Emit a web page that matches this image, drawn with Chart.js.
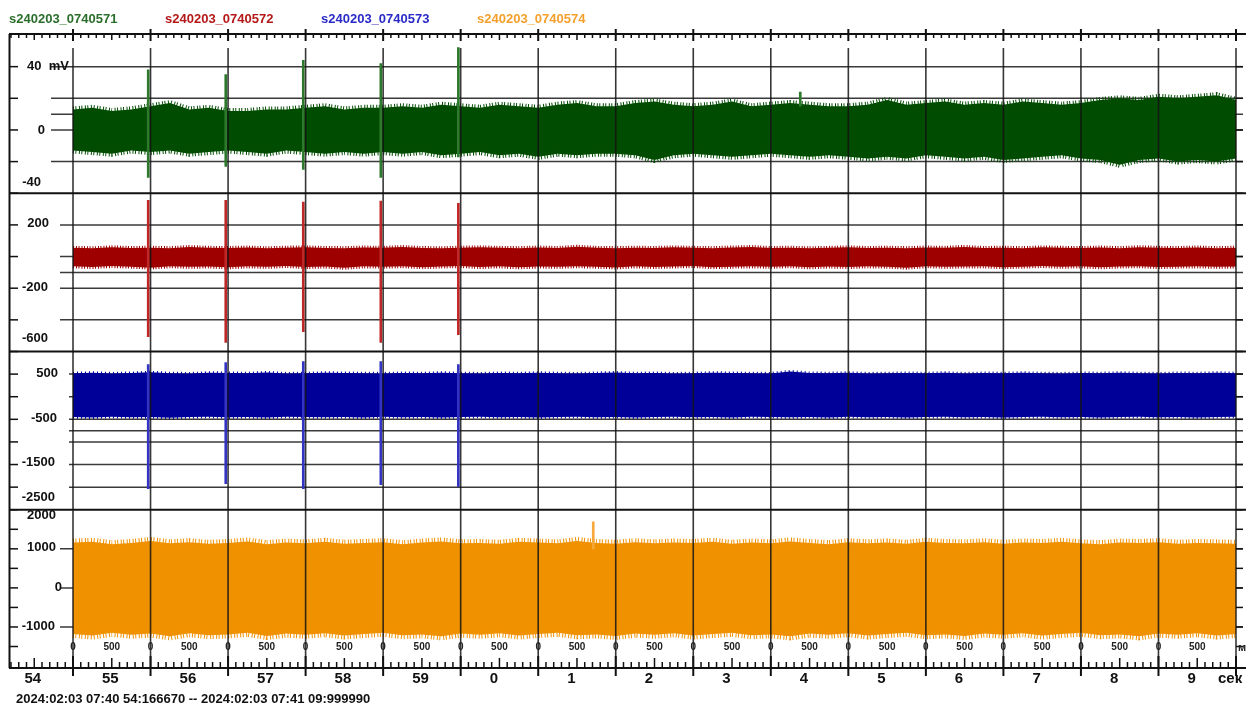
<!DOCTYPE html>
<html>
<head>
<meta charset="utf-8">
<script src="https://cdn.jsdelivr.net/npm/chart.js@4.4.1/dist/chart.umd.min.js"></script>
<style>
  html, body { margin: 0; padding: 0; background: #fff; }
  #wrap { width: 1246px; height: 704px; }
</style>
</head>
<body>
<div id="wrap"><canvas id="eeg" width="1246" height="704"></canvas></div>
<script>
// channel names (legend at the top)
const channelNames = ['s240203_0740571', 's240203_0740572', 's240203_0740573', 's240203_0740574'];
const rangeText = '2024:02:03 07:40 54:166670 -- 2024:02:03 07:41 09:999990';

// x axis: seconds, 54.16667 .. 70 (70 = 07:41:10)
const timeMin = 54.16667, timeMax = 70;
const secondLabels = ['54', '55', '56', '57', '58', '59', '0', '1', '2', '3', '4', '5', '6', '7', '8', '9'];
const msLabels = ['0', '500'];

// envelope of each trace, one value per 0.25 s from 55.00 s to 70.00 s
const greenUpper = [13, 14, 12, 13, 15, 17, 13, 14, 12, 12, 13, 13, 14, 15, 13, 14,
  14, 15, 14, 16, 15, 14, 16, 15, 14, 16, 17, 15, 15, 17, 18, 16,
  15, 16, 18, 15, 16, 17, 16, 15, 15, 16, 19, 16, 17, 18, 16, 17,
  16, 18, 17, 16, 17, 19, 20, 19, 21, 20, 21, 22, 19];
const greenLower = [-13, -14, -15, -13, -14, -13, -15, -14, -13, -14, -15, -13, -14, -15, -14, -15,
  -14, -15, -14, -16, -15, -14, -16, -15, -17, -15, -16, -15, -15, -16, -19, -16,
  -15, -16, -17, -16, -15, -16, -17, -16, -17, -18, -17, -18, -16, -17, -18, -17,
  -19, -18, -17, -16, -18, -19, -22, -19, -18, -20, -19, -20, -18];
const redUpper = [55, 52, 58, 54, 56, 53, 60, 55, 54, 57, 52, 56, 58, 54, 53, 57,
  55, 60, 54, 52, 56, 58, 55, 53, 57, 54, 62, 55, 53, 56, 54, 58,
  55, 53, 57, 60, 54, 56, 52, 55, 58, 54, 56, 53, 57, 55, 61, 54,
  56, 53, 58, 55, 54, 57, 53, 59, 55, 54, 57, 53, 56];
const redLower = [-62, -66, -60, -64, -70, -61, -65, -63, -68, -62, -65, -60, -66, -63, -71, -62,
  -64, -61, -67, -63, -60, -66, -62, -68, -63, -65, -61, -64, -69, -62, -66, -63,
  -60, -67, -64, -62, -65, -61, -68, -63, -66, -62, -64, -70, -61, -65, -63, -62,
  -67, -64, -60, -65, -62, -68, -63, -61, -66, -64, -62, -65, -63];
const blueUpper = [520, 530, 515, 525, 540, 520, 515, 530, 525, 520, 535, 515, 520, 530, 525, 520,
  515, 525, 520, 530, 520, 515, 525, 520, 530, 520, 515, 525, 535, 520, 525, 515,
  520, 530, 525, 520, 515, 560, 525, 520, 530, 515, 520, 525, 520, 530, 515, 525,
  520, 530, 520, 515, 525, 520, 530, 520, 515, 525, 520, 530, 520];
const blueLower = [-450, -460, -445, -455, -450, -465, -450, -445, -455, -450, -460, -445, -450, -455, -450, -460,
  -445, -455, -450, -460, -450, -445, -455, -450, -460, -450, -445, -455, -450, -460, -450, -445,
  -455, -450, -460, -445, -450, -455, -450, -460, -445, -455, -450, -460, -450, -445, -455, -450,
  -460, -450, -445, -455, -450, -460, -450, -445, -455, -450, -460, -450, -445];
const orangeUpper = [1160, 1180, 1120, 1150, 1200, 1140, 1170, 1130, 1150, 1190, 1120, 1160, 1140, 1180, 1130, 1150,
  1170, 1120, 1160, 1190, 1140, 1150, 1130, 1180, 1160, 1140, 1200, 1150, 1130, 1170, 1140, 1160,
  1150, 1180, 1130, 1160, 1140, 1190, 1150, 1120, 1170, 1140, 1160, 1130, 1180, 1150, 1140, 1170,
  1130, 1160, 1150, 1180, 1140, 1120, 1160, 1150, 1170, 1130, 1150, 1140, 1130];
const orangeLower = [-1180, -1220, -1150, -1200, -1170, -1240, -1160, -1210, -1190, -1150, -1230, -1170, -1200, -1160, -1220, -1180,
  -1150, -1210, -1190, -1240, -1170, -1200, -1160, -1220, -1180, -1150, -1210, -1190, -1230, -1170, -1200, -1160,
  -1220, -1180, -1150, -1210, -1190, -1240, -1170, -1200, -1160, -1220, -1180, -1150, -1210, -1190, -1230, -1170,
  -1200, -1160, -1220, -1180, -1150, -1210, -1190, -1240, -1170, -1200, -1160, -1220, -1180];

// spikes (time in s, min, max)
const greenSpikeTimes = [55.97, 56.97, 57.97, 58.97, 59.97, 64.38];
const greenSpikeMin = [-30, -23, -25, -30, -17, 15];
const greenSpikeMax = [38, 35, 44, 42, 52, 24];
const redSpikeTimes = [55.97, 56.97, 57.97, 58.97, 59.97];
const redSpikeMin = [-506, -543, -474, -543, -493];
const redSpikeMax = [356, 356, 344, 350, 337];
const blueSpikeTimes = [55.97, 56.97, 57.97, 58.97, 59.97];
const blueSpikeMin = [-2035, -1924, -2035, -1947, -1990];
const blueSpikeMax = [712, 756, 779, 779, 712];
const orangeSpikeTimes = [61.71];
const orangeSpikeMin = [1000];
const orangeSpikeMax = [1692];

// vertical scales of the four panels
const panelMin = [-40, -600, -2500, -2050];
const panelMax = [60, 400, 1000, 2000];
const panelTicks = [[40, 20, 0, -20, -40], [200, 0, -200, -400, -600], [500, 0, -500, -1000, -1500, -2000, -2500], [1500, 1000, 500, 0, -500, -1000, -1500]];
const panelGrid = [[40, 20, 10, 0, -20], [200, 0, -100, -200, -400], [500, 0, -500, -750, -1000, -1500, -2000], [1000, 0, -1000]];
const panelLabelValues = [[40, 0, -40], [200, -200, -600], [500, -500, -1500, -2500], [2000, 1000, 0, -1000]];
const panelLabelTexts = [['40  mV', '0', '-40'], ['200', '-200', '-600'], ['500', '-500', '-1500', '-2500'], ['2000', '1000', '0', '-1000']];

// ---- styling ----
const FONT = 'Arial, "Liberation Sans", sans-serif';
const traceColors = ['#004c00', '#9e0000', '#000099', '#f09100'];
const spikeColors = ['#2d7a2d', '#c02828', '#3333c4', '#f6a93a'];
const legendColors = ['#2b6e2b', '#b41818', '#2a2ac8', '#f5a02c'];
const fringeWidth = [6, 4, 3, 8];
const fringeDash = [[1, 1.5, 1, 2.5], [1, 2, 1, 1.5], [1, 3], [1, 1.5, 1, 2.5]];
const axisIds = ['yG', 'yR', 'yB', 'yO'];
const gridStartX = [51, 60, 69, 60];
// label layout per panel: [x, align, dy]
const labelLayout = [
  [[27, 'left', 0], [45, 'right', 0], [41, 'right', -11]],
  [[49, 'right', -1], [48, 'right', -1], [48, 'right', -13]],
  [[58, 'right', -1], [57, 'right', -1], [55, 'right', -2], [55, 'right', -12]],
  [[56, 'right', 6], [56, 'right', -1], [62, 'right', 0], [55, 'right', -1]]
];

const binTimes = greenUpper.map((_, i) => 55 + i * 0.25); // sampling grid

function pts(values) {
  return values.map((v, i) => ({ x: binTimes[i], y: v }));
}
function spikes(times, lo, hi) {
  return times.map((t, i) => ({ x: t, y: [lo[i], hi[i]] }));
}

const bands = [[greenUpper, greenLower], [redUpper, redLower], [blueUpper, blueLower], [orangeUpper, orangeLower]];
const spikeSets = [
  spikes(greenSpikeTimes, greenSpikeMin, greenSpikeMax),
  spikes(redSpikeTimes, redSpikeMin, redSpikeMax),
  spikes(blueSpikeTimes, blueSpikeMin, blueSpikeMax),
  spikes(orangeSpikeTimes, orangeSpikeMin, orangeSpikeMax)
];

const datasets = [];
bands.forEach((b, p) => {
  datasets.push({
    type: 'bar', label: channelNames[p] + ' spikes', data: spikeSets[p], yAxisID: axisIds[p],
    backgroundColor: spikeColors[p], barThickness: 2, grouped: false, order: 0
  });
});
bands.forEach((b, p) => {
  // upper edge: dashed wide line gives the noisy fringe
  datasets.push({
    label: channelNames[p], data: pts(b[0]), yAxisID: axisIds[p], borderColor: traceColors[p],
    borderWidth: fringeWidth[p], borderDash: fringeDash[p], borderCapStyle: 'butt',
    pointRadius: 0, fill: false, order: 1
  });
  datasets.push({
    label: channelNames[p] + ' low', data: pts(b[1]), yAxisID: axisIds[p], borderColor: traceColors[p],
    borderWidth: fringeWidth[p], borderDash: fringeDash[p], borderCapStyle: 'butt',
    pointRadius: 0, fill: '-1', backgroundColor: traceColors[p], order: 1
  });
});

function seg(ctx, x1, y1, x2, y2) {
  ctx.beginPath();
  ctx.moveTo(x1, y1);
  ctx.lineTo(x2, y2);
  ctx.stroke();
}

function ruler(ctx, xs, y, up) {
  const d = up ? -1 : 1;
  ctx.lineWidth = 2;
  seg(ctx, 9, y, 1246, y);
  ctx.lineWidth = 1.5;
  for (let k = 542; k <= 700; k++) {
    const x = xs.getPixelForValue(k / 10);
    if (k % 10 === 0) {
      ctx.lineWidth = 2;
      if (up) seg(ctx, x, y - 12, x, y + 8);
      else seg(ctx, x, y - 5, x, y + 7);
      ctx.lineWidth = 1.5;
    } else if (k % 5 === 0) {
      seg(ctx, x, y, x, y + d * (up ? 10 : 6));
    } else {
      seg(ctx, x, y, x, y + d * (up ? 6 : 4));
    }
  }
}

const eegDecor = {
  id: 'eegDecor',
  beforeDatasetsDraw(chart) {
    const ctx = chart.ctx;
    ctx.save();
    ctx.strokeStyle = '#3a3a3a';
    ctx.lineWidth = 1.5;
    axisIds.forEach((id, p) => {
      const sc = chart.scales[id];
      panelGrid[p].forEach(v => {
        const y = sc.getPixelForValue(v);
        seg(ctx, gridStartX[p], y, 1243, y);
      });
    });
    ctx.restore();
  },
  afterDatasetsDraw(chart) {
    const ctx = chart.ctx;
    const xs = chart.scales.x;
    ctx.save();
    // second lines over the traces
    ctx.strokeStyle = 'rgba(20,20,20,0.85)';
    ctx.lineWidth = 1.6;
    for (let s = 55; s <= 70; s++) {
      const x = xs.getPixelForValue(s);
      seg(ctx, x, 48, x, 668);
    }
    ctx.strokeStyle = '#111';
    // panel separators, left border, side ticks
    ctx.lineWidth = 2;
    seg(ctx, 9.5, 34, 9.5, 668);
    axisIds.forEach((id, p) => {
      const sc = chart.scales[id];
      if (p < 3) {
        ctx.lineWidth = 2;
        seg(ctx, 9, sc.bottom, 1246, sc.bottom);
      }
      ctx.lineWidth = 1.5;
      panelTicks[p].forEach(v => {
        const y = sc.getPixelForValue(v);
        seg(ctx, 9, y, 18, y);
        seg(ctx, 1236, y, 1243, y);
      });
    });
    // time rulers
    ruler(ctx, xs, 34, false);
    ruler(ctx, xs, 668, true);

    // texts
    ctx.textBaseline = 'middle';
    ctx.font = 'bold 13px ' + FONT;
    ctx.textAlign = 'left';
    const legendX = [9, 165, 321, 477];
    channelNames.forEach((n, i) => {
      ctx.fillStyle = legendColors[i];
      ctx.fillText(n, legendX[i], 19);
    });
    ctx.fillStyle = '#111';
    axisIds.forEach((id, p) => {
      const sc = chart.scales[id];
      panelLabelValues[p].forEach((v, i) => {
        const [x, align, dy] = labelLayout[p][i];
        ctx.textAlign = align;
        ctx.fillText(panelLabelTexts[p][i], x, sc.getPixelForValue(v) + dy);
      });
    });
    // ms labels inside the bottom panel
    ctx.font = 'bold 10px ' + FONT;
    ctx.textAlign = 'center';
    ctx.fillStyle = '#222';
    for (let s = 55; s < 70; s++) {
      ctx.fillText(msLabels[0], xs.getPixelForValue(s), 647);
      ctx.fillText(msLabels[1], xs.getPixelForValue(s + 0.5), 647);
    }
    ctx.textAlign = 'left';
    ctx.font = 'bold 11px ' + FONT;
    ctx.fillText('мс', xs.getPixelForValue(70) + 2, 648);
    // seconds
    ctx.fillStyle = '#111';
    ctx.font = 'bold 15px ' + FONT;
    secondLabels.forEach((lab, i) => {
      ctx.fillText(lab, xs.getPixelForValue(54 + i) + 29, 679);
    });
    ctx.fillText('сек', xs.getPixelForValue(70) - 18, 679);
    ctx.font = 'bold 13px ' + FONT;
    ctx.fillText(rangeText, 16, 699);
    ctx.restore();
  }
};

new Chart(document.getElementById('eeg').getContext('2d'), {
  type: 'line',
  data: { datasets: datasets },
  options: {
    responsive: false,
    animation: false,
    events: [],
    layout: { padding: { left: 8.4, right: 10, top: 35, bottom: 36 } },
    plugins: { legend: { display: false }, tooltip: { enabled: false }, filler: { propagate: false } },
    scales: {
      x: { type: 'linear', min: timeMin, max: timeMax, display: false, offset: false },
      yG: { type: 'linear', position: 'left', stack: 'ch', stackWeight: 1, weight: 4, min: panelMin[0], max: panelMax[0], display: false },
      yR: { type: 'linear', position: 'left', stack: 'ch', stackWeight: 1, weight: 3, min: panelMin[1], max: panelMax[1], display: false },
      yB: { type: 'linear', position: 'left', stack: 'ch', stackWeight: 1, weight: 2, min: panelMin[2], max: panelMax[2], display: false },
      yO: { type: 'linear', position: 'left', stack: 'ch', stackWeight: 1, weight: 1, min: panelMin[3], max: panelMax[3], display: false }
    }
  },
  plugins: [eegDecor]
});
</script>
</body>
</html>
